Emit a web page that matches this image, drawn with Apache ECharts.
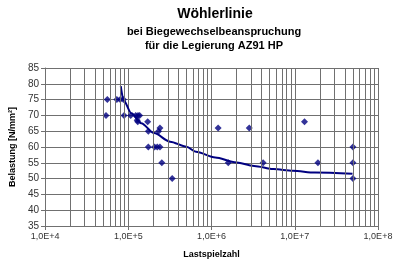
<!DOCTYPE html>
<html>
<head>
<meta charset="utf-8">
<script src="https://cdn.jsdelivr.net/npm/echarts@6/dist/echarts.min.js"></script>
<style>
html,body{margin:0;padding:0;background:#fff;}
#chart{width:400px;height:266px;}
</style>
</head>
<body>
<div id="chart"></div>
<script>
// Measured points: load cycles (Lastspielzahl) and stress (Belastung)
var cycles = [5.6e4, 5.4e4, 7.3e4, 8.0e4, 8.75e4, 8.9e4, 1.07e5, 1.23e5, 1.31e5, 1.37e5, 1.28e5, 1.30e5,
              1.71e5, 1.74e5, 1.74e5, 2.07e5, 2.23e5, 2.4e5, 2.4e5, 2.31e5, 2.53e5, 3.37e5,
              1.2e6, 2.84e6, 1.59e6, 4.17e6, 1.31e7, 1.9e7, 5.0e7, 5.0e7, 5.0e7];
var stress = [75, 70, 75, 75, 75, 70, 70, 70, 70, 70, 68.5, 68,
              68, 65, 60, 60, 60, 60, 66, 65, 55, 50,
              66, 66, 55, 55, 68, 55, 55, 60, 50];
// Trend line (Wöhler curve)
var trendCycles = [8.13e4, 8.75e4, 1.09e5, 1.43e5, 2.04e5, 3.18e5, 5.0e5, 6.5e5, 1.11e6, 1.9e6, 3.25e6, 5.55e6, 9.5e6, 1.75e7, 4.94e7];
var trendStress = [79.3, 74.9, 70.7, 67.5, 64.4, 61.7, 60.1, 58.5, 56.7, 55.2, 54.0, 53.0, 52.5, 51.9, 51.5];
// Minor gridline positions of the log axis
var minorTicks = [];
[1e4, 1e5, 1e6, 1e7].forEach(function (d) { for (var k = 2; k <= 9; k++) minorTicks.push(k * d); });

var font = 'Liberation Sans, Arial, sans-serif';
var navy = '#000080';
var gridCol = '#707070';
var pts = cycles.map(function (c, i) { return [c, stress[i]]; });
var trend = trendCycles.map(function (c, i) { return [c, trendStress[i]]; });

var chart = echarts.init(document.getElementById('chart'), null, {renderer: 'canvas'});
chart.setOption({
  animation: false,
  backgroundColor: '#fff',
  title: [
    {text: 'Wöhlerlinie', left: 210, top: 2, textAlign: 'center',
     textStyle: {fontFamily: font, fontSize: 14, fontWeight: 'bold', color: '#000'}},
    {text: 'bei Biegewechselbeanspruchung\nfür die Legierung AZ91 HP', left: 209, top: 20, textAlign: 'center',
     textStyle: {fontFamily: font, fontSize: 11, fontWeight: 'bold', color: '#000', lineHeight: 14}}
  ],
  grid: {left: 34, right: 22, top: 68, bottom: 40, show: false},
  xAxis: {
    type: 'log', logBase: 10, min: 1e4, max: 1e8,
    name: 'Lastspielzahl', nameLocation: 'middle', nameGap: 24,
    nameTextStyle: {fontFamily: font, fontSize: 9, fontWeight: 'bold', color: '#000'},
    axisLine: {show: true, lineStyle: {color: gridCol, width: 1}},
    axisTick: {show: true, length: 4, lineStyle: {color: gridCol}},
    axisLabel: {fontFamily: font, fontSize: 9, color: '#333', margin: 6,
      formatter: function (v) { return '1,0E+' + Math.round(Math.log10(v)); }},
    splitLine: {show: true, lineStyle: {color: gridCol, width: 1}}
  },
  yAxis: {
    type: 'value', min: 35, max: 85, interval: 5,
    name: 'Belastung [N/mm²]', nameLocation: 'middle', nameGap: 22, nameRotate: 90,
    nameTextStyle: {fontFamily: font, fontSize: 9, fontWeight: 'bold', color: '#000'},
    axisLine: {show: true, lineStyle: {color: gridCol, width: 1}},
    axisTick: {show: true, length: 4, lineStyle: {color: gridCol}},
    axisLabel: {fontFamily: font, fontSize: 10, color: '#333', margin: 6},
    splitLine: {show: true, lineStyle: {color: gridCol, width: 1}}
  },
  series: [
    {
      type: 'line', data: [], silent: true,
      markLine: {
        silent: true, symbol: 'none', label: {show: false},
        lineStyle: {color: gridCol, width: 1, type: 'solid'},
        data: minorTicks.map(function (v) { return {xAxis: v}; })
      }
    },
    {
      type: 'line', data: trend, smooth: 0.3, smoothMonotone: 'x', showSymbol: false, symbol: 'none',
      lineStyle: {color: navy, width: 2}, z: 3
    },
    {
      type: 'scatter', data: pts, symbol: 'diamond', symbolSize: 7,
      itemStyle: {color: navy}, z: 4
    }
  ]
});
</script>
</body>
</html>
